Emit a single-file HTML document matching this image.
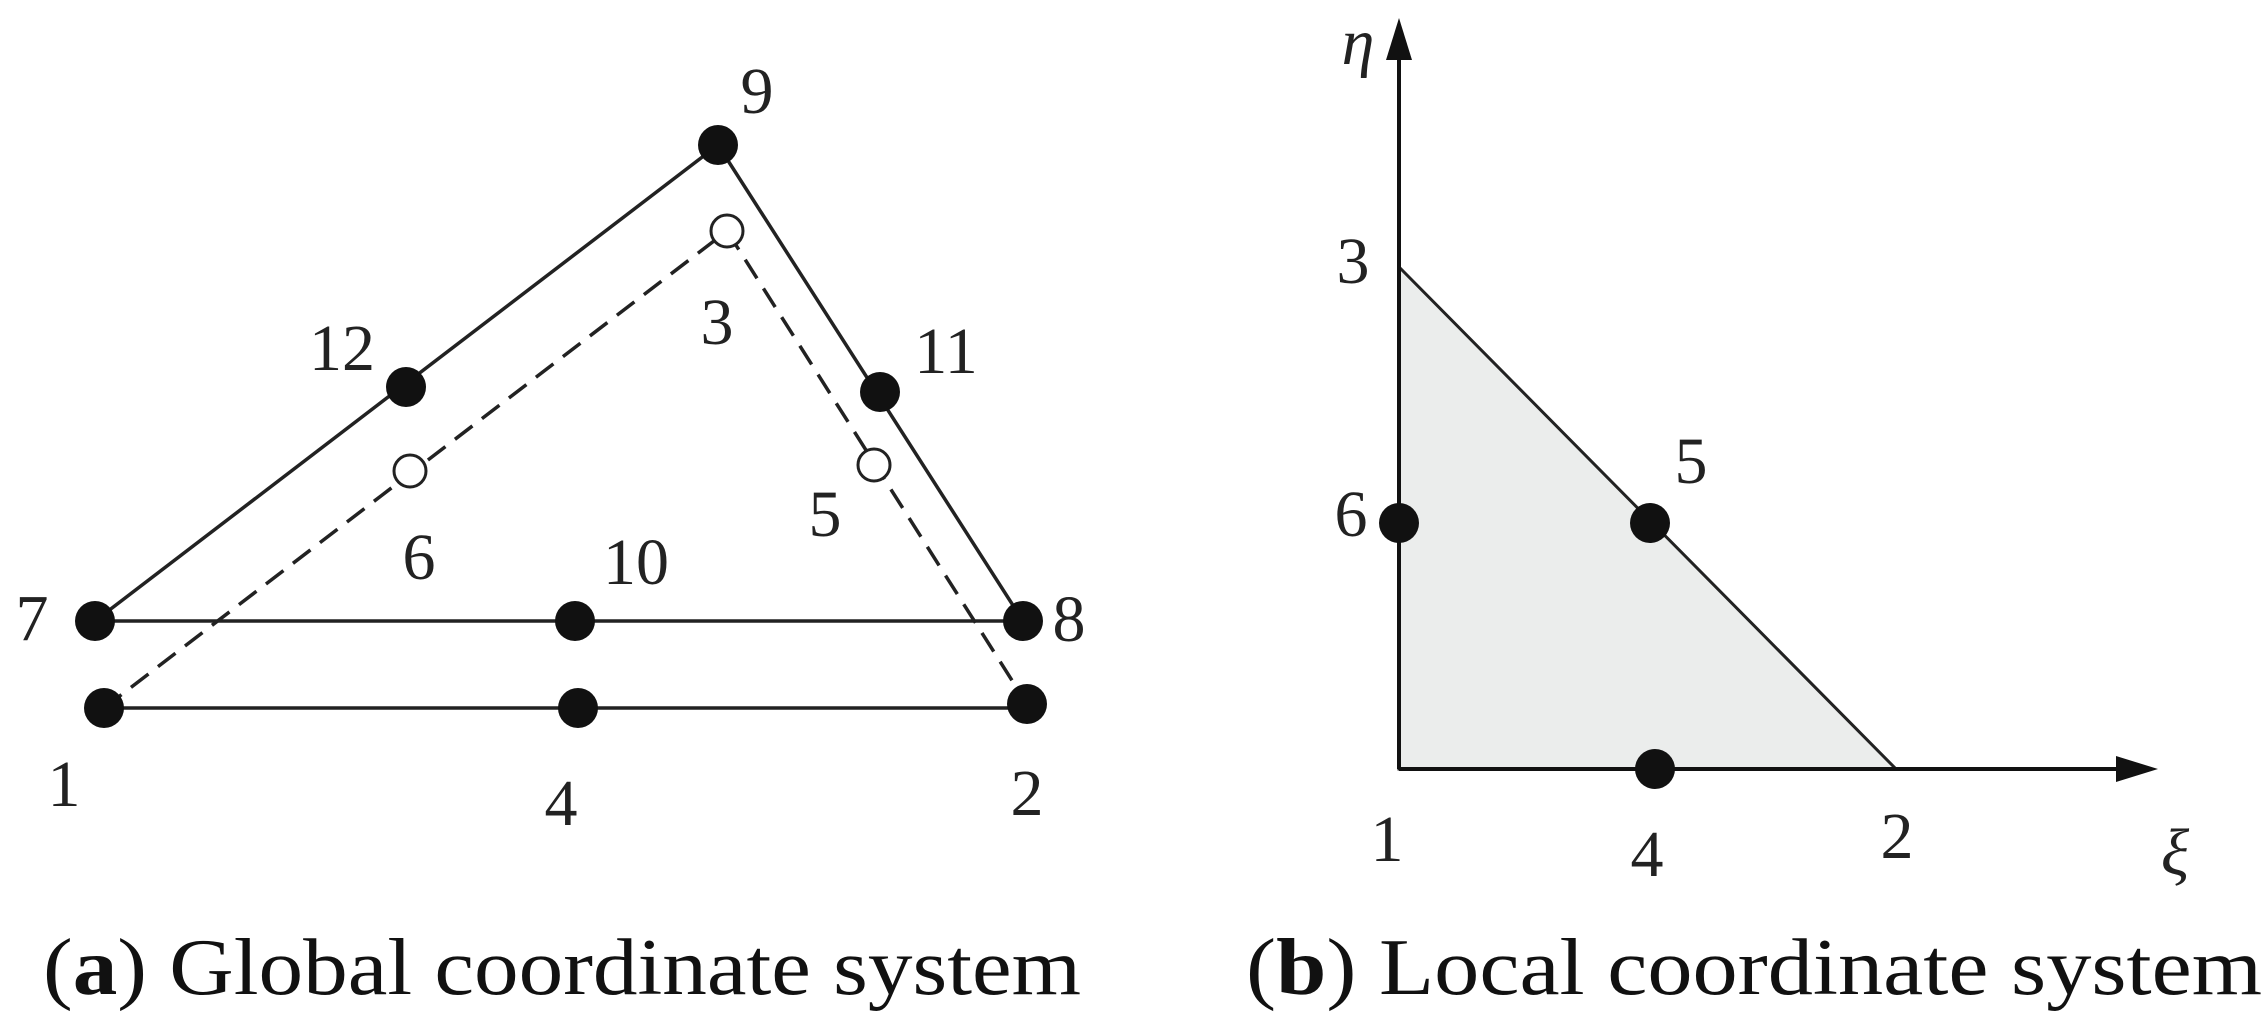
<!DOCTYPE html>
<html><head><style>html,body{margin:0;padding:0;background:#fff}svg{display:block}</style></head>
<body>
<svg width="2266" height="1016" viewBox="0 0 2266 1016" xmlns="http://www.w3.org/2000/svg">
<g stroke="#222" stroke-width="3.5" fill="none">
<line x1="95" y1="621" x2="1023" y2="621"/>
<line x1="104" y1="708" x2="1027" y2="708"/>
<line x1="95" y1="621" x2="718" y2="145"/>
<line x1="718" y1="145" x2="1023" y2="621"/>
<g stroke-dasharray="22,12">
<line x1="104" y1="708" x2="727" y2="231"/>
<line x1="727" y1="231" x2="1027" y2="704"/>
</g>
</g>
<g fill="#111">
<circle cx="718" cy="145" r="20"/><circle cx="406" cy="387" r="20"/><circle cx="880" cy="392" r="20"/>
<circle cx="95" cy="621" r="20"/><circle cx="575" cy="621" r="20"/><circle cx="1023" cy="621" r="20"/>
<circle cx="104" cy="708" r="20"/><circle cx="578" cy="708" r="20"/><circle cx="1027" cy="704" r="20"/>
</g>
<g fill="#fff" stroke="#222" stroke-width="3">
<circle cx="727" cy="231" r="16"/><circle cx="410" cy="471" r="16"/><circle cx="874" cy="465" r="16"/>
</g>
<g font-family="Liberation Serif, serif" font-size="66" fill="#222" text-anchor="middle">
<text x="757" y="113">9</text><text x="342" y="370">12</text><text x="717" y="344">3</text>
<text x="946" y="373">11</text><text x="825" y="536">5</text><text x="419" y="579">6</text>
<text x="636" y="584">10</text><text x="32" y="640">7</text><text x="1069" y="641">8</text>
<text x="64" y="806">1</text><text x="561" y="825">4</text><text x="1027" y="815">2</text>
</g>
<polygon points="1399,267 1399,769 1896,769" fill="#ebedec" stroke="#222" stroke-width="3"/>
<g stroke="#111" stroke-width="4">
<line x1="1399" y1="769" x2="1399" y2="50"/>
<line x1="1399" y1="769" x2="2125" y2="769"/>
</g>
<polygon points="1399,18 1386,60 1412,60" fill="#111"/>
<polygon points="2158,769 2116,756 2116,782" fill="#111"/>
<g fill="#111">
<circle cx="1399" cy="523" r="20"/><circle cx="1650" cy="523" r="20"/><circle cx="1655" cy="769" r="20"/>
</g>
<g font-family="Liberation Serif, serif" font-size="66" fill="#222" text-anchor="middle">
<text x="1358" y="64" font-style="italic">η</text>
<text x="1353" y="283">3</text><text x="1351" y="536">6</text><text x="1691" y="483">5</text>
<text x="1387" y="861">1</text><text x="1647" y="876">4</text><text x="1897" y="858">2</text>
<text x="2175" y="874" font-style="italic">ξ</text>
</g>
<g font-family="Liberation Serif, serif" font-size="80" fill="#111">
<text x="43" y="994" textLength="1038" lengthAdjust="spacingAndGlyphs">(<tspan font-weight="bold">a</tspan>) Global coordinate system</text>
<text x="1246" y="994" textLength="1016" lengthAdjust="spacingAndGlyphs">(<tspan font-weight="bold">b</tspan>) Local coordinate system</text>
</g>
</svg>
</body></html>
